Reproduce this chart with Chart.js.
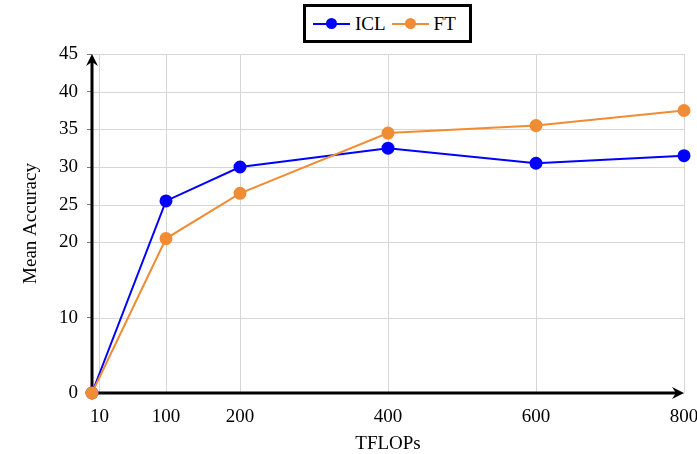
<!DOCTYPE html>
<html>
<head>
<meta charset="utf-8">
<script src="https://cdn.jsdelivr.net/npm/chart.js@4.4.1/dist/chart.umd.min.js"></script>
<style>
  html, body { margin: 0; padding: 0; background: #fff; }
  #wrap { position: relative; width: 697px; height: 454px; }
  #legend {
    position: absolute; left: 303px; top: 4px; width: 169px; height: 39px;
    box-sizing: border-box; border: 3px solid #000; background: #fff;
    display: flex; align-items: center; padding-left: 7px;
    font-family: "Liberation Serif", serif; font-size: 19px; color: #000;
  }
  .item { display: flex; align-items: center; margin-right: 6px; }
  .sym { position: relative; width: 37px; height: 12px; margin-right: 5px; }
  .sym .ln { position: absolute; left: 0; right: 0; top: 5px; height: 2px; }
  .sym .dt { position: absolute; left: 13px; top: 0; width: 11px; height: 11px; border-radius: 50%; }
</style>
</head>
<body>
<div id="wrap">
  <canvas id="chart" width="697" height="454"></canvas>
  <div id="legend">
    <div class="item"><div class="sym"><div class="ln" style="background:#0000ff"></div><div class="dt" style="background:#0000ff"></div></div>ICL</div>
    <div class="item"><div class="sym"><div class="ln" style="background:rgb(240,140,52)"></div><div class="dt" style="background:rgb(240,140,52)"></div></div>FT</div>
  </div>
</div>
<script>
const xValues = [0, 100, 200, 400, 600, 800];
const iclValues = [0, 25.5, 30, 32.5, 30.5, 31.5];
const ftValues = [0, 20.5, 26.5, 34.5, 35.5, 37.5];
const xTicks = [10, 100, 200, 400, 600, 800];
const yTicks = [0, 10, 20, 25, 30, 35, 40, 45];

const blue = '#0000ff';
const orange = 'rgb(240,140,52)';
const gridColor = '#d6d6d6';
const font = { family: '"Liberation Serif", serif', size: 19 };

function points(ys) {
  return xValues.map((x, i) => ({ x: x, y: ys[i] }));
}

// grid lines + black axis lines with arrow heads
const arrowAxes = {
  id: 'arrowAxes',
  beforeDatasetsDraw(chart) {
    const { ctx, scales: { x, y } } = chart;
    const left = x.getPixelForValue(0);
    const right = x.getPixelForValue(800);
    const top = y.getPixelForValue(45);
    const bottom = y.getPixelForValue(0);
    ctx.save();
    ctx.strokeStyle = gridColor;
    ctx.lineWidth = 1;
    yTicks.forEach(v => {
      const py = Math.round(y.getPixelForValue(v)) + 0.5;
      ctx.beginPath();
      ctx.moveTo(left, py);
      ctx.lineTo(right, py);
      ctx.stroke();
    });
    xTicks.forEach(v => {
      const px = Math.round(x.getPixelForValue(v)) + 0.5;
      ctx.beginPath();
      ctx.moveTo(px, top);
      ctx.lineTo(px, bottom);
      ctx.stroke();
    });
    ctx.strokeStyle = '#000';
    ctx.fillStyle = '#000';
    ctx.lineWidth = 3;
    ctx.beginPath();
    ctx.moveTo(left, bottom);
    ctx.lineTo(left, top + 6);
    ctx.moveTo(left, bottom);
    ctx.lineTo(right - 6, bottom);
    ctx.stroke();
    ctx.beginPath();
    ctx.moveTo(left, top);
    ctx.lineTo(left - 6, top + 12);
    ctx.lineTo(left, top + 8);
    ctx.lineTo(left + 6, top + 12);
    ctx.closePath();
    ctx.fill();
    ctx.beginPath();
    ctx.moveTo(right, bottom);
    ctx.lineTo(right - 12, bottom - 6);
    ctx.lineTo(right - 8, bottom);
    ctx.lineTo(right - 12, bottom + 6);
    ctx.closePath();
    ctx.fill();
    ctx.restore();
  }
};

new Chart(document.getElementById('chart'), {
  type: 'line',
  data: {
    datasets: [{
      label: 'ICL',
      data: points(iclValues),
      borderColor: blue,
      backgroundColor: blue,
      borderWidth: 2,
      pointRadius: 5.5,
      pointHoverRadius: 5.5,
      order: 1,
      tension: 0
    }, {
      label: 'FT',
      data: points(ftValues),
      borderColor: orange,
      backgroundColor: orange,
      borderWidth: 2,
      pointRadius: 5.5,
      pointHoverRadius: 5.5,
      order: 0,
      tension: 0
    }]
  },
  options: {
    responsive: false,
    animation: false,
    clip: false,
    layout: { padding: { top: 54, right: 13, left: 0, bottom: 0 } },
    plugins: { legend: { display: false }, tooltip: { enabled: false } },
    scales: {
      x: {
        type: 'linear',
        min: 0,
        max: 800,
        afterBuildTicks: s => { s.ticks = xTicks.map(v => ({ value: v })); },
        afterFit: s => { s.height = 61; s.paddingLeft = 0; s.paddingRight = 0; },
        grid: { display: false, drawTicks: false },
        border: { display: false },
        ticks: { color: '#000', font: font, padding: 13, maxRotation: 0, autoSkip: false },
        title: { display: true, text: 'TFLOPs', color: '#000', font: { family: font.family, size: 19, lineHeight: 1 }, padding: { top: 0, bottom: 0 } }
      },
      y: {
        min: 0,
        max: 45,
        afterBuildTicks: s => { s.ticks = yTicks.map(v => ({ value: v })); },
        afterFit: s => { s.width = 92; s.paddingTop = 0; s.paddingBottom = 0; },
        grid: { drawOnChartArea: false, color: gridColor, tickColor: '#777', tickLength: 5 },
        border: { display: false },
        ticks: { color: '#000', font: font, padding: 9, autoSkip: false },
        title: { display: true, text: 'Mean Accuracy', color: '#000', font: font, padding: { top: 20, bottom: 0 } }
      }
    }
  },
  plugins: [arrowAxes]
});
</script>
</body>
</html>
